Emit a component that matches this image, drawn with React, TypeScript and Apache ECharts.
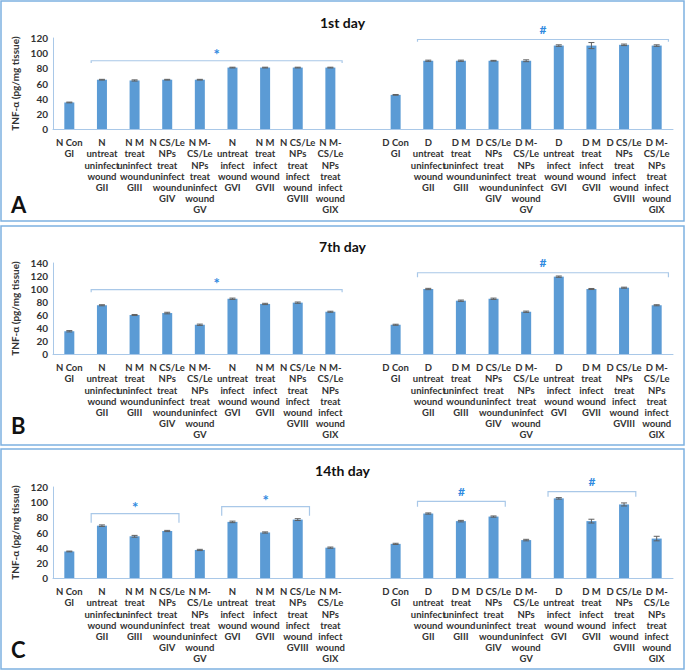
import React, { useEffect, useRef } from "react";
import * as echarts from "echarts";

const groupNames = [
  "Con\nGI",
  "\nuntreat\nuninfect\nwound\nGII",
  " M\ntreat\nuninfect\nwound\nGIII",
  " CS/Le\nNPs\ntreat\nuninfect\nwound\nGIV",
  " M-\nCS/Le\nNPs\ntreat\nuninfect\nwound\nGV",
  "\nuntreat\ninfect\nwound\nGVI",
  " M\ntreat\ninfect\nwound\nGVII",
  " CS/Le\nNPs\ntreat\ninfect\nwound\nGVIII",
  " M-\nCS/Le\nNPs\ntreat\ninfect\nwound\nGIX",
];
const nLabels = groupNames.map((g, i) => (i === 0 ? "N " + g : "N" + g));
const dLabels = groupNames.map((g, i) => (i === 0 ? "D " + g : "D" + g));
const categories = [...nLabels, "", ...dLabels];

const panelTitles = ["1st day", "7th day", "14th day"];
const panelLetters = ["A", "B", "C"];
const yMax = [120, 140, 120];

// values (pg/mg tissue)
const day1N = [35, 65, 64, 65, 65, 81, 81, 81, 81];
const day1D = [45, 90, 90, 90, 90, 110, 110, 111, 110];
const day7N = [35, 75, 60, 63, 45, 85, 77, 79, 65];
const day7D = [45, 100, 82, 85, 65, 119, 100, 102, 75];
const day14N = [35, 69, 55, 62, 37, 74, 60, 77, 40];
const day14D = [45, 85, 75, 81, 50, 105, 75, 97, 52];

// error (SD)
const day1NErr = [0.5, 0.5, 0.8, 0.5, 0.5, 0.5, 0.5, 0.5, 0.5];
const day1DErr = [0.5, 0.8, 0.8, 0.5, 1.2, 1, 4, 1, 1];
const day7NErr = [1, 0.8, 0.8, 1.2, 1, 1, 1, 1, 0.8];
const day7DErr = [0.8, 1, 1, 1, 1, 1, 0.8, 0.8, 0.8];
const day14NErr = [0.5, 1, 1.2, 0.8, 0.8, 1, 0.8, 1.2, 0.8];
const day14DErr = [0.8, 0.8, 1, 0.8, 1, 1, 2.5, 2, 3];

// significance brackets: [fromIndex, toIndex, level, drop]
const bracketsDay1 = [[1, 8, 90, 3], [11, 18, 118, 3]];
const marksDay1 = ["*", "#"];
const bracketsDay7 = [[1, 8, 99, 4], [11, 18, 125, 7]];
const marksDay7 = ["*", "#"];
const bracketsDay14 = [[1, 3, 85, 12], [5, 7, 94, 12], [11, 13, 101, 7], [15, 17, 114, 7]];
const marksDay14 = ["*", "*", "#", "#"];

const panels = [
  { n: day1N, d: day1D, ne: day1NErr, de: day1DErr, br: bracketsDay1, mk: marksDay1 },
  { n: day7N, d: day7D, ne: day7NErr, de: day7DErr, br: bracketsDay7, mk: marksDay7 },
  { n: day14N, d: day14D, ne: day14NErr, de: day14DErr, br: bracketsDay14, mk: marksDay14 },
];

const FONT = "Lato, 'Open Sans', sans-serif";
const BAR = "#5b9bd5";
const AXIS = "#a9c8e8";
const BORDER = "#7eb1e1";

export default function App() {
  const ref = useRef<HTMLDivElement>(null);
  useEffect(() => {
    document.body.style.margin = "0";
    if (!ref.current) return;
    const chart = echarts.init(ref.current, undefined, { renderer: "svg" });

    const gridTops = [38, 263, 487];
    const boxes = [
      [1, 1, 683, 220],
      [1, 226, 683, 219],
      [1, 449, 683, 220],
    ];
    const titleTops = [10, 234, 458];
    const letterTops = [193, 414, 638];

    const series: any[] = [];
    panels.forEach((p, gi) => {
      const values = [...p.n, null, ...p.d];
      const errs = [...p.ne, null, ...p.de];
      series.push({
        type: "bar",
        xAxisIndex: gi,
        yAxisIndex: gi,
        data: values,
        barWidth: 10,
        itemStyle: { color: BAR },
      });
      series.push({
        type: "custom",
        xAxisIndex: gi,
        yAxisIndex: gi,
        encode: { x: 0, y: 1 },
        data: values
          .map((v, i) => (v == null ? null : [i, v, errs[i]]))
          .filter((x) => x != null),
        renderItem: (params: any, api: any) => {
          const idx = api.value(0);
          const v = api.value(1);
          const e = api.value(2);
          const t = api.coord([idx, v + e]);
          const b = api.coord([idx, v - e]);
          const w = 3;
          const st = { stroke: "#606060", lineWidth: 1 };
          return {
            type: "group",
            children: [
              { type: "line", shape: { x1: t[0], y1: t[1], x2: b[0], y2: b[1] }, style: st },
              { type: "line", shape: { x1: t[0] - w, y1: t[1], x2: t[0] + w, y2: t[1] }, style: st },
              { type: "line", shape: { x1: b[0] - w, y1: b[1], x2: b[0] + w, y2: b[1] }, style: st },
            ],
          };
        },
        z: 5,
      });
      const marks = p.mk;
      series.push({
        type: "custom",
        xAxisIndex: gi,
        yAxisIndex: gi,
        encode: { x: [0, 1], y: 2 },
        clip: false,
        data: p.br,
        renderItem: (params: any, api: any) => {
          const from = api.value(0);
          const to = api.value(1);
          const y = api.value(2);
          const drop = api.value(3);
          const band = api.size([1, 0])[0];
          const p1 = api.coord([from, y]);
          const p2 = api.coord([to, y]);
          const pd = api.coord([from, y - drop]);
          const x1 = p1[0] - band * 0.33;
          const x2 = p2[0] + band * 0.36;
          const yy = p1[1];
          const yd = pd[1];
          const mark = marks[params.dataIndex];
          return {
            type: "group",
            children: [
              {
                type: "polyline",
                shape: { points: [[x1, yd], [x1, yy], [x2, yy], [x2, yd]] },
                style: { stroke: AXIS, fill: null, lineWidth: 1.2 },
              },
              {
                type: "text",
                x: (x1 + x2) / 2,
                y: yy - (mark === "*" ? -1 : 4),
                style: {
                  text: mark,
                  fill: "#2f8ae0",
                  fontSize: mark === "*" ? 15 : 12,
                  fontWeight: "bold",
                  fontFamily: FONT,
                  align: "center",
                  verticalAlign: "bottom",
                },
              },
            ],
          };
        },
        z: 6,
      });
    });

    const option: any = {
      animation: false,
      title: panelTitles.map((t, i) => ({
        text: t,
        left: "center",
        top: titleTops[i],
        textStyle: { fontSize: 14, fontWeight: "bold", color: "#111", fontFamily: FONT },
      })),
      graphic: [
        ...boxes.map((b) => ({
          type: "rect",
          shape: { x: b[0], y: b[1], width: b[2], height: b[3] },
          style: { fill: "none", stroke: BORDER, lineWidth: 1.5 },
          silent: true,
        })),
        ...panelLetters.map((l, i) => ({
          type: "text",
          left: 11,
          top: letterTops[i],
          style: { text: l, fontSize: 22, fontWeight: "bold", fill: "#111", fontFamily: FONT },
        })),
      ],
      grid: gridTops.map((t) => ({ left: 53, right: 12, top: t, height: 91 })),
      xAxis: [0, 1, 2].map((i) => ({
        type: "category",
        gridIndex: i,
        data: categories,
        axisTick: { show: false },
        axisLine: { lineStyle: { color: AXIS, width: 1 } },
        axisLabel: {
          interval: 0,
          fontSize: 9.5,
          lineHeight: 11.2,
          fontWeight: "bold",
          color: "#333",
          fontFamily: FONT,
          margin: 8,
        },
      })),
      yAxis: [0, 1, 2].map((i) => ({
        type: "value",
        gridIndex: i,
        min: 0,
        max: yMax[i],
        interval: 20,
        name: "TNF-α (pg/mg tissue)",
        nameLocation: "middle",
        nameGap: 28,
        nameTextStyle: { fontSize: 10, fontWeight: "bold", color: "#333", fontFamily: FONT },
        splitLine: { show: false },
        axisTick: { show: false },
        axisLine: { show: true, lineStyle: { color: AXIS, width: 1 } },
        axisLabel: { fontSize: 10, fontWeight: "bold", color: "#333", fontFamily: FONT, margin: 5 },
      })),
      series,
    };
    chart.setOption(option);
    return () => chart.dispose();
  }, []);
  return <div ref={ref} style={{ width: 685, height: 671 }} />;
}
